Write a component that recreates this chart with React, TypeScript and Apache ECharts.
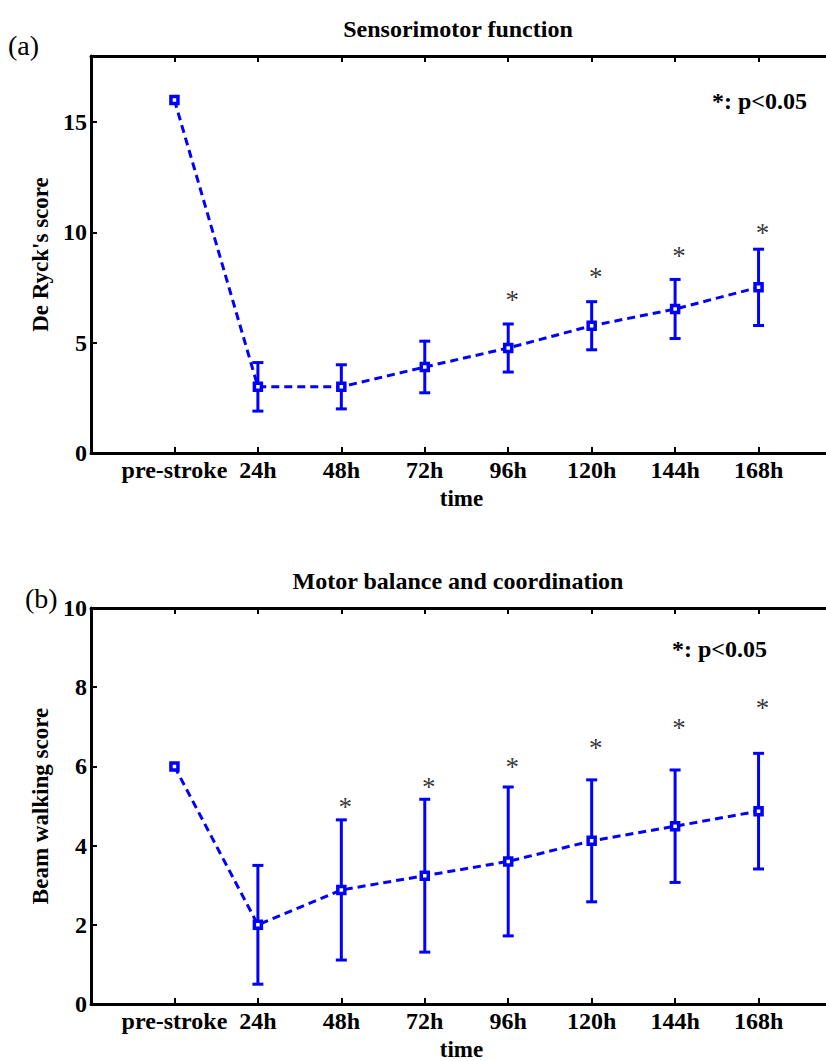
import React, { useEffect, useRef } from "react";
import * as echarts from "echarts";

const categories = ["pre-stroke", "24h", "48h", "72h", "96h", "120h", "144h", "168h"];

const meanA = [16, 3, 3, 3.9, 4.76, 5.77, 6.53, 7.51];
const sdA = [0, 1.1, 1.0, 1.17, 1.09, 1.09, 1.34, 1.73];
const starIdxA = [4, 5, 6, 7];
const starYA = [7.14, 8.14, 9.12, 10.14];

const meanB = [6, 2, 2.88, 3.24, 3.6, 4.12, 4.49, 4.87];
const sdB = [0, 1.5, 1.77, 1.93, 1.88, 1.54, 1.42, 1.46];
const starIdxB = [2, 3, 4, 5, 6, 7];
const starYB = [5.07, 5.57, 6.08, 6.57, 7.07, 7.58];

const titleA = "Sensorimotor function";
const titleB = "Motor balance and coordination";
const yNameA = "De Ryck's score";
const yNameB = "Beam walking score";
const xName = "time";
const sigText = "*: p<0.05";

const FONT = '"Liberation Serif", "Times New Roman", serif';
const BLUE = "#0000ff";

function makeXAxis(gridIndex: number, bottom: boolean) {
  return {
    type: "value",
    gridIndex,
    position: bottom ? "bottom" : "top",
    min: 0,
    max: 9,
    interval: 1,
    name: bottom ? xName : "",
    nameLocation: "middle",
    nameGap: 34,
    nameTextStyle: {
      fontFamily: FONT,
      fontWeight: "bold",
      fontSize: 23,
      color: "#000",
      padding: [0, 10, 0, 0],
    },
    axisLine: { show: true, onZero: false, lineStyle: { color: "#000", width: 3 } },
    axisTick: { show: true, inside: true, length: 6, lineStyle: { color: "#000", width: 2 } },
    axisLabel: {
      show: bottom,
      margin: 5,
      fontFamily: FONT,
      fontWeight: "bold",
      fontSize: 24,
      color: "#000",
      formatter: (v: number) => (v >= 1 && v <= categories.length ? categories[v - 1] : ""),
    },
    splitLine: { show: false },
  };
}

function makeYAxis(gridIndex: number, max: number, interval: number, name: string) {
  return {
    type: "value",
    gridIndex,
    min: 0,
    max,
    interval,
    name,
    nameLocation: "middle",
    nameGap: 38,
    nameTextStyle: { fontFamily: FONT, fontWeight: "bold", fontSize: 23, color: "#000" },
    axisLine: { show: true, onZero: false, lineStyle: { color: "#000", width: 3 } },
    axisTick: { show: true, inside: true, length: 6, lineStyle: { color: "#000", width: 2 } },
    axisLabel: {
      margin: 4,
      fontFamily: FONT,
      fontWeight: "bold",
      fontSize: 24,
      color: "#000",
      formatter: (v: number) => (v % interval === 0 ? String(v) : ""),
    },
    splitLine: { show: false },
  };
}

function errorSeries(xAxisIndex: number, yAxisIndex: number, mean: number[], sd: number[]) {
  const data = mean
    .map((m, i) => [i + 1, m - sd[i], m + sd[i]])
    .filter((_, i) => sd[i] > 0);
  return {
    type: "custom",
    xAxisIndex,
    yAxisIndex,
    z: 2,
    clip: false,
    data,
    renderItem: (_params: any, api: any) => {
      const x = api.value(0);
      const lo = api.coord([x, api.value(1)]);
      const hi = api.coord([x, api.value(2)]);
      const half = 5.5;
      const style = { stroke: BLUE, lineWidth: 3 };
      return {
        type: "group",
        children: [
          { type: "line", shape: { x1: lo[0], y1: lo[1], x2: hi[0], y2: hi[1] }, style },
          { type: "line", shape: { x1: lo[0] - half, y1: lo[1], x2: lo[0] + half, y2: lo[1] }, style },
          { type: "line", shape: { x1: hi[0] - half, y1: hi[1], x2: hi[0] + half, y2: hi[1] }, style },
        ],
      };
    },
  };
}

function meanSeries(xAxisIndex: number, yAxisIndex: number, mean: number[]) {
  return {
    type: "line",
    xAxisIndex,
    yAxisIndex,
    z: 3,
    data: mean.map((m, i) => [i + 1, m]),
    symbol: "rect",
    symbolSize: 7,
    showSymbol: true,
    lineStyle: { color: BLUE, width: 3, type: [8, 5] },
    itemStyle: { color: "#ffffff", borderColor: BLUE, borderWidth: 3.5 },
  };
}

function starSeries(xAxisIndex: number, yAxisIndex: number, idx: number[], ys: number[]) {
  return {
    type: "scatter",
    xAxisIndex,
    yAxisIndex,
    z: 4,
    symbol: "circle",
    symbolSize: 1,
    itemStyle: { color: "rgba(0,0,0,0)" },
    data: idx.map((k, i) => [k + 1, ys[i]]),
    label: {
      show: true,
      position: "inside",
      formatter: "*",
      fontFamily: FONT,
      fontSize: 27,
      color: "#000",
      offset: [4, 4],
    },
  };
}

function textEl(text: string, x: number, y: number, size: number, bold: boolean, align = "center") {
  return {
    type: "text",
    x,
    y,
    style: {
      text,
      fontFamily: FONT,
      fontSize: size,
      fontWeight: bold ? "bold" : "normal",
      fill: "#000",
      align,
      verticalAlign: "middle",
    },
  };
}

export default function App() {
  const ref = useRef<HTMLDivElement>(null);
  useEffect(() => {
    if (!ref.current) return;
    const chart = echarts.init(ref.current, undefined, { renderer: "svg" });
    const option: any = {
      animation: false,
      backgroundColor: "#ffffff",
      grid: [
        { left: 91, width: 751, top: 56, height: 397, outerBoundsMode: "none", containLabel: false },
        { left: 91, width: 751, top: 608, height: 396, outerBoundsMode: "none", containLabel: false },
      ],
      xAxis: [makeXAxis(0, true), makeXAxis(0, false), makeXAxis(1, true), makeXAxis(1, false)],
      yAxis: [makeYAxis(0, 18, 5, yNameA), makeYAxis(1, 10, 2, yNameB)],
      series: [
        errorSeries(0, 0, meanA, sdA),
        meanSeries(0, 0, meanA),
        starSeries(0, 0, starIdxA, starYA),
        errorSeries(2, 1, meanB, sdB),
        meanSeries(2, 1, meanB),
        starSeries(2, 1, starIdxB, starYB),
      ],
      graphic: [
        textEl(titleA, 458, 29, 24, true),
        textEl(titleB, 458, 581, 24, true),
        textEl("(a)", 8, 45, 28, false, "left"),
        textEl("(b)", 25, 598, 28, false, "left"),
        textEl(sigText, 712, 101, 24, true, "left"),
        textEl(sigText, 672, 649, 24, true, "left"),
      ],
    };
    chart.setOption(option);
    return () => chart.dispose();
  }, []);
  return (
    <div
      ref={ref}
      style={{ position: "absolute", left: 0, top: 0, width: 826, height: 1061, background: "#fff" }}
    />
  );
}
